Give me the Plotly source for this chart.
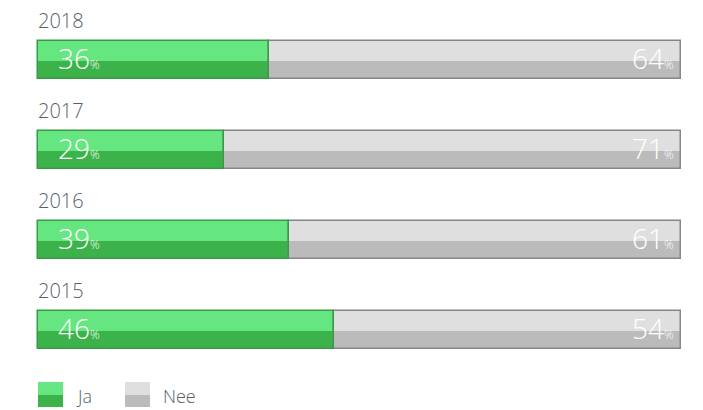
import plotly.graph_objects as go

years = ["2018", "2017", "2016", "2015"]
ja = [36, 29, 39, 46]
nee = [64, 71, 61, 54]
legend_labels = ["Ja", "Nee"]

W, H = 703, 410
PX_LEFT, PX_RIGHT = 38, 681
R = 100 * W / (PX_RIGHT - PX_LEFT)
XMIN = -PX_LEFT * R / W
XMAX = XMIN + R

ROW = 90.0           # px between bars
C0 = 59.5            # px center of first bar
YTOP = -C0 / ROW
YBOT = (H - C0) / ROW

top_off, top_w = -19 / ROW, 20 / ROW
bot_off, bot_w = 1 / ROW, 18 / ROW
full_off, full_w = -19 / ROW, 38 / ROW

GREEN_L, GREEN_D, GREEN_B = "#66E680", "#3CB34A", "#389A45"
GREY_L, GREY_D, GREY_B = "#DFDFE0", "#BBBBBC", "#868686"
TXT = "#56616B"
FONT = "Open Sans, Lato, sans-serif"

fig = go.Figure()

def add(x, base, color, off, w, line=None):
    fig.add_trace(go.Bar(
        y=years, x=x, base=base, orientation="h",
        offset=off, width=w,
        marker=dict(color=color if line is None else "rgba(0,0,0,0)",
                    line=dict(width=0 if line is None else 1.5,
                              color=line if line else "rgba(0,0,0,0)")),
        showlegend=False, hoverinfo="skip"))

add(ja, [0] * len(ja), GREEN_L, top_off, top_w)
add(ja, [0] * len(ja), GREEN_D, bot_off, bot_w)
add(nee, ja, GREY_L, top_off, top_w)
add(nee, ja, GREY_D, bot_off, bot_w)
add(nee, ja, None, full_off, full_w, line=GREY_B)
add(ja, [0] * len(ja), None, full_off, full_w, line=GREEN_B)

ann = []
for i, y in enumerate(years):
    ann.append(dict(x=0, y=i - 39 / ROW, xref="x", yref="y", text=y,
                    showarrow=False, xanchor="left", yanchor="middle",
                    xshift=-2,
                    font=dict(family=FONT, size=20, color=TXT, weight=300)))
    ann.append(dict(x=0, y=i, xref="x", yref="y",
                    text=f"{ja[i]}<span style='font-size:12px'>%</span>",
                    showarrow=False, xanchor="left", yanchor="middle",
                    xshift=18, yshift=2,
                    font=dict(family=FONT, size=28, color="white", weight=300)))
    ann.append(dict(x=100, y=i, xref="x", yref="y",
                    text=f"{nee[i]}<span style='font-size:12px'>%</span>",
                    showarrow=False, xanchor="right", yanchor="middle",
                    xshift=-5, yshift=2,
                    font=dict(family=FONT, size=28, color="white", weight=300)))

shapes = []
legend_items = [(legend_labels[0], GREEN_L, GREEN_D, 38), (legend_labels[1], GREY_L, GREY_D, 125)]
for label, cl, cd, px in legend_items:
    shapes.append(dict(type="rect", xref="paper", yref="paper",
                       x0=px / W, x1=(px + 25) / W, y0=1 - 382 / H, y1=1 - 395 / H,
                       fillcolor=cl, line=dict(width=0)))
    shapes.append(dict(type="rect", xref="paper", yref="paper",
                       x0=px / W, x1=(px + 25) / W, y0=1 - 395 / H, y1=1 - 407 / H,
                       fillcolor=cd, line=dict(width=0)))
    ann.append(dict(x=(px + 36) / W, y=1 - 396 / H, xref="paper", yref="paper",
                    text=label, showarrow=False, xanchor="left", yanchor="middle",
                    font=dict(family=FONT, size=18, color=TXT, weight=300)))

fig.update_layout(
    width=W, height=H, margin=dict(l=0, r=0, t=0, b=0),
    paper_bgcolor="white", plot_bgcolor="white",
    barmode="overlay", bargap=0,
    xaxis=dict(range=[XMIN, XMAX], visible=False, fixedrange=True),
    yaxis=dict(type="category", categoryorder="array", categoryarray=years,
               range=[YBOT, YTOP], visible=False, fixedrange=True),
    annotations=ann, shapes=shapes, showlegend=False,
)

fig.write_html("out.html", config={"displayModeBar": False},
               post_script="document.body.style.margin='0';document.body.style.padding='0';")
